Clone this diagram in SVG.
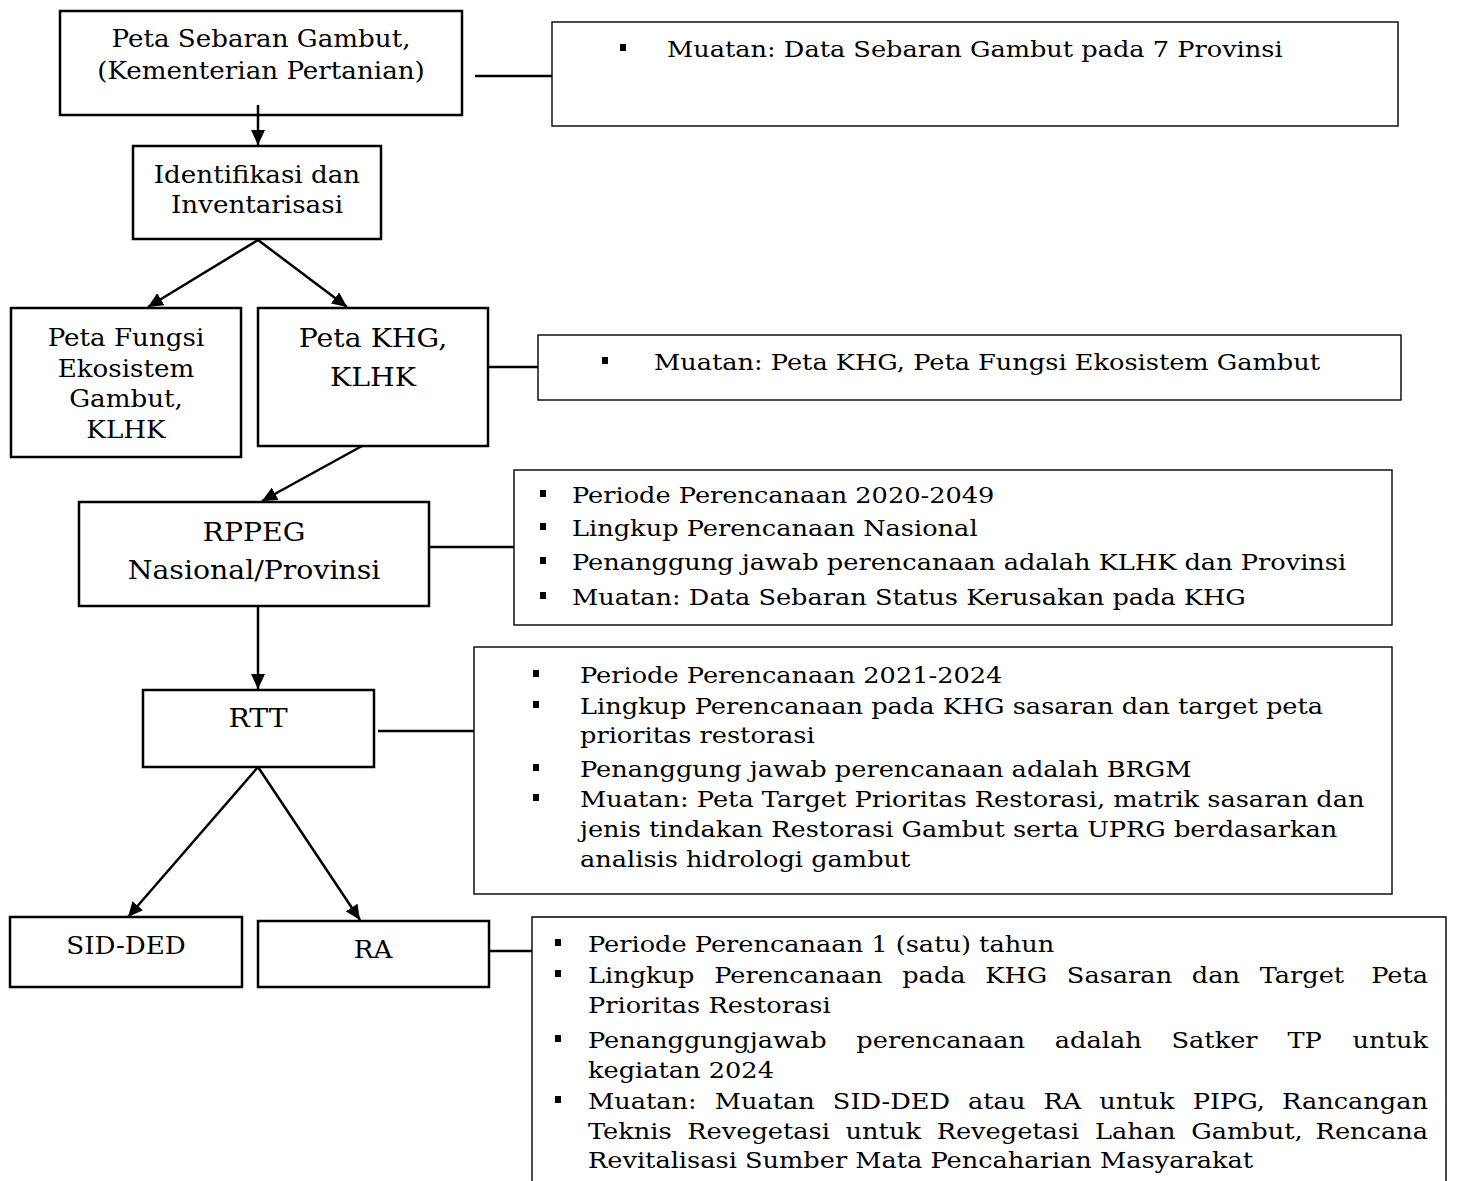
<svg xmlns="http://www.w3.org/2000/svg" width="1458" height="1181" viewBox="0 0 1458 1181">
<style>
.box{fill:#fff;stroke:#000;stroke-width:2.5}
.ibox{fill:#fff;stroke:#000;stroke-width:1.4}
.t{font-family:"DejaVu Serif","Liberation Serif",serif;font-size:24px;fill:#000;text-anchor:middle}
.tl{font-size:26px}
.b{font-family:"DejaVu Serif","Liberation Serif",serif;font-size:22px;fill:#000}
.ln{stroke:#000;stroke-width:2.5;fill:none}
.ar{stroke:#000;stroke-width:2.5;fill:none;marker-end:url(#ah)}
</style>
<defs>
<marker id="ah" markerUnits="userSpaceOnUse" markerWidth="16" markerHeight="14" refX="15" refY="7" orient="auto">
<path d="M0,0 L15,7 L0,14 Z" fill="#000"/>
</marker>
<rect id="bl" width="6" height="7" fill="#000"/>
</defs>

<g id="connectors">
<line class="ar" x1="258" y1="105" x2="258" y2="145"/>
<line class="ar" x1="258" y1="240" x2="148" y2="307"/>
<line class="ar" x1="258" y1="240" x2="347" y2="307"/>
<line class="ar" x1="362" y1="446" x2="262" y2="501"/>
<line class="ar" x1="258" y1="606" x2="258" y2="689"/>
<line class="ar" x1="258" y1="767" x2="128" y2="917"/>
<line class="ar" x1="258" y1="767" x2="360" y2="920"/>
<line class="ln" x1="475" y1="76" x2="552" y2="76"/>
<line class="ln" x1="488" y1="367" x2="538" y2="367"/>
<line class="ln" x1="429" y1="547" x2="514" y2="547"/>
<line class="ln" x1="378" y1="731" x2="474" y2="731"/>
<line class="ln" x1="489" y1="951" x2="532" y2="951"/>
</g>

<g id="peta-sebaran">
<rect class="box" x="60" y="11" width="402" height="104"/>
<g transform="matrix(1.09,0,0,1,-23.49,0)">
<text class="t" x="261" y="47">Peta Sebaran Gambut,</text>
<text class="t" x="261" y="79">(Kementerian Pertanian)</text>
</g>
</g>
<line class="ln" x1="258" y1="105" x2="258" y2="115"/>

<g id="identifikasi">
<rect class="box" x="133" y="146" width="248" height="93"/>
<g transform="matrix(1.09,0,0,1,-23.13,0)">
<text class="t" x="257" y="183">Identifikasi dan</text>
<text class="t" x="257" y="213">Inventarisasi</text>
</g>
</g>

<g id="peta-fungsi">
<rect class="box" x="11" y="308" width="230" height="149"/>
<g transform="matrix(1.09,0,0,1,-11.34,0)">
<text class="t" x="126" y="346">Peta Fungsi</text>
<text class="t" x="126" y="377">Ekosistem</text>
<text class="t" x="126" y="407">Gambut,</text>
<text class="t" x="126" y="438">KLHK</text>
</g>
</g>

<g id="peta-khg">
<rect class="box" x="258" y="308" width="230" height="138"/>
<g transform="matrix(1.09,0,0,1,-33.57,0)">
<text class="t tl" x="373" y="347">Peta KHG,</text>
<text class="t tl" x="373" y="386">KLHK</text>
</g>
</g>

<g id="rppeg">
<rect class="box" x="79" y="502" width="350" height="104"/>
<g transform="matrix(1.09,0,0,1,-22.86,0)">
<text class="t tl" x="254" y="541">RPPEG</text>
<text class="t tl" x="254" y="579">Nasional/Provinsi</text>
</g>
</g>

<g id="rtt">
<rect class="box" x="143" y="690" width="231" height="77"/>
<text class="t tl" x="258" y="727" transform="matrix(1.09,0,0,1,-23.22,0)">RTT</text>
</g>

<g id="sid-ded">
<rect class="box" x="10" y="917" width="232" height="70"/>
<text class="t" x="126" y="954" transform="matrix(1.09,0,0,1,-11.34,0)">SID-DED</text>
</g>

<g id="ra">
<rect class="box" x="258" y="921" width="231" height="66"/>
<text class="t" x="373" y="958" transform="matrix(1.09,0,0,1,-33.57,0)">RA</text>
</g>

<g id="info-sebaran">
<rect class="ibox" x="552" y="22" width="846" height="104"/>
<use href="#bl" x="620" y="44"/>
<text class="b" x="667" y="57" transform="matrix(1.165,0,0,1,-110.06,0)">Muatan: Data Sebaran Gambut pada 7 Provinsi</text>
</g>

<g id="info-khg">
<rect class="ibox" x="538" y="335" width="863" height="65"/>
<use href="#bl" x="602" y="357"/>
<text class="b" x="654" y="370" transform="matrix(1.165,0,0,1,-107.91,0)">Muatan: Peta KHG, Peta Fungsi Ekosistem Gambut</text>
</g>

<g id="info-rppeg">
<rect class="ibox" x="514" y="470" width="878" height="155"/>
<use href="#bl" x="540" y="490"/>
<use href="#bl" x="540" y="523"/>
<use href="#bl" x="540" y="557"/>
<use href="#bl" x="540" y="592"/>
<g transform="matrix(1.165,0,0,1,-94.38,0)">
<text class="b" x="572" y="503">Periode Perencanaan 2020-2049</text>
<text class="b" x="572" y="536">Lingkup Perencanaan Nasional</text>
<text class="b" x="572" y="570">Penanggung jawab perencanaan adalah KLHK dan Provinsi</text>
<text class="b" x="572" y="605">Muatan: Data Sebaran Status Kerusakan pada KHG</text>
</g>
</g>

<g id="info-rtt">
<rect class="ibox" x="474" y="647" width="918" height="247"/>
<use href="#bl" x="533" y="670"/>
<use href="#bl" x="533" y="701"/>
<use href="#bl" x="533" y="764"/>
<use href="#bl" x="533" y="794"/>
<g transform="matrix(1.165,0,0,1,-95.7,0)">
<text class="b" x="580" y="683">Periode Perencanaan 2021-2024</text>
<text class="b" x="580" y="714">Lingkup Perencanaan pada KHG sasaran dan target peta</text>
<text class="b" x="580" y="743">prioritas restorasi</text>
<text class="b" x="580" y="777">Penanggung jawab perencanaan adalah BRGM</text>
<text class="b" x="580" y="807">Muatan: Peta Target Prioritas Restorasi, matrik sasaran dan</text>
<text class="b" x="580" y="837">jenis tindakan Restorasi Gambut serta UPRG berdasarkan</text>
<text class="b" x="580" y="867">analisis hidrologi gambut</text>
</g>
</g>

<g id="info-ra">
<path class="ibox" d="M532,1181 V917 H1446 V1181"/>
<use href="#bl" x="555" y="939"/>
<use href="#bl" x="555" y="970"/>
<use href="#bl" x="555" y="1035"/>
<use href="#bl" x="555" y="1096"/>
<g transform="matrix(1.165,0,0,1,-97.02,0)">
<text class="b" x="588" y="952">Periode Perencanaan 1 (satu) tahun</text>
<text class="b" y="983" word-spacing="9.9"><tspan x="588">Lingkup Perencanaan pada KHG Sasaran dan Target </tspan><tspan x="1309" text-anchor="end">Peta</tspan></text>
<text class="b" x="588" y="1013">Prioritas Restorasi</text>
<text class="b" y="1048" word-spacing="18.6"><tspan x="588">Penanggungjawab perencanaan adalah Satker TP </tspan><tspan x="1309" text-anchor="end">untuk</tspan></text>
<text class="b" x="588" y="1078">kegiatan 2024</text>
<text class="b" y="1109" word-spacing="8.5"><tspan x="588">Muatan: Muatan SID-DED atau RA untuk PIPG, </tspan><tspan x="1309" text-anchor="end">Rancangan</tspan></text>
<text class="b" y="1139" word-spacing="6.5"><tspan x="588">Teknis Revegetasi untuk Revegetasi Lahan Gambut, </tspan><tspan x="1309" text-anchor="end">Rencana</tspan></text>
<text class="b" x="588" y="1168">Revitalisasi Sumber Mata Pencaharian Masyarakat</text>
</g>
</g>
</svg>
